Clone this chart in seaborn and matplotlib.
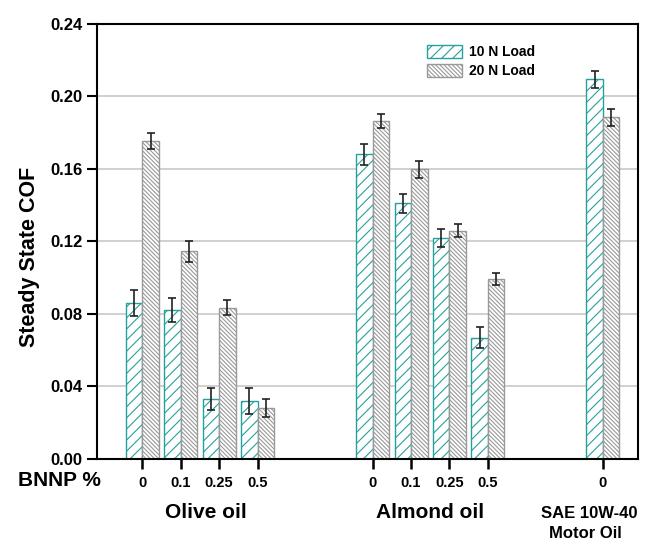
import numpy as np
import pandas as pd
import seaborn as sns
import matplotlib.pyplot as plt
import matplotlib.transforms as mtransforms
from matplotlib.patches import Patch

# ---------------- data ----------------
oils = ["Olive oil"] * 4 + ["Almond oil"] * 4 + ["SAE 10W-40"]
bnnp = ["0", "0.1", "0.25", "0.5", "0", "0.1", "0.25", "0.5", "0"]
loads = ["10 N Load", "20 N Load"]
cof_10n = [0.086, 0.082, 0.033, 0.032, 0.168, 0.141, 0.122, 0.067, 0.2095]
cof_20n = [0.1755, 0.1145, 0.0835, 0.028, 0.1865, 0.1598, 0.126, 0.0993, 0.1885]
err_10n = [0.007, 0.0066, 0.006, 0.0074, 0.006, 0.0052, 0.0051, 0.0056, 0.0047]
err_20n = [0.0045, 0.006, 0.0042, 0.005, 0.004, 0.0045, 0.0035, 0.0032, 0.0046]
yticks = [0.00, 0.04, 0.08, 0.12, 0.16, 0.20, 0.24]

keys = [f"{o}|{b}" for o, b in zip(oils, bnnp)]
df = pd.DataFrame({
    "key": keys * 2,
    "load": [loads[0]] * len(keys) + [loads[1]] * len(keys),
    "cof": cof_10n + cof_20n,
    "err": err_10n + err_20n,
})
# empty slots between the oil groups
order = keys[:4] + ["gap1", "gap2"] + keys[4:8] + ["gap3", "gap4"] + keys[8:]

# ---------------- style ----------------
sns.set_theme(style="white")
plt.rcParams['font.family'] = ['Liberation Sans', 'DejaVu Sans']
plt.rcParams['font.weight'] = 'bold'
plt.rcParams['hatch.linewidth'] = 0.8
plt.rcParams['text.color'] = 'black'
plt.rcParams['axes.labelcolor'] = 'black'

TEAL = "#26a09a"
GRAY = "#999999"
styles = {loads[0]: dict(edge=TEAL, hatch="///"),
          loads[1]: dict(edge=GRAY, hatch="\\" * 8)}

fig = plt.figure(figsize=(6.45, 5.4), dpi=100)
ax = fig.add_axes([0.1499, 0.15, 0.8397, 0.8056])

sns.barplot(data=df, x="key", y="cof", hue="load", order=order,
            hue_order=loads, errorbar=None, width=0.86, dodge=True,
            legend=False, ax=ax, zorder=2)

lookup = {(k, l): (c, e) for k, l, c, e in zip(df["key"], df["load"], df["cof"], df["err"])}

for p in list(ax.patches):
    cx = p.get_x() + p.get_width() / 2
    idx = int(round(cx))
    load = loads[0] if cx < idx else loads[1]
    st = styles[load]
    p.set_facecolor("white")
    p.set_edgecolor(st["edge"])
    p.set_hatch(st["hatch"])
    p.set_linewidth(1.0)
    key = order[idx]
    if (key, load) in lookup:
        c, e = lookup[(key, load)]
        ax.errorbar(cx, p.get_height(), yerr=e, fmt='none', ecolor="#222222",
                    elinewidth=1.2, capsize=3, capthick=1.2, zorder=3)

# ---------------- axes ----------------
tick_pos = [i for i, k in enumerate(order) if not k.startswith("gap")]
ax.set_xticks(tick_pos)
ax.set_xticklabels(bnnp)
ax.set_xlim(-1.19, 12.92)
ax.set_ylim(0, 0.24)
ax.set_yticks(yticks)
ax.set_yticklabels([f"{v:.2f}" for v in yticks])
ax.set_xlabel("")
ax.set_ylabel("Steady State COF", fontsize=15.5, fontweight='bold')
ax.yaxis.set_label_coords(-0.104, 0.464)

ax.yaxis.grid(True, color="#c8c8c8", linewidth=1.2)
ax.set_axisbelow(True)
for s in ax.spines.values():
    s.set_visible(True)
    s.set_color("black")
    s.set_linewidth(1.5)

ax.tick_params(axis='y', direction='out', length=7, width=1.5, labelsize=12,
               pad=3, left=True, colors='black')
ax.tick_params(axis='x', direction='out', length=7, width=1.8, labelsize=10.5,
               pad=5, bottom=True, colors='black')
for t in ax.get_xticklabels() + ax.get_yticklabels():
    t.set_fontweight('bold')

# ---------------- legend ----------------
handles = [Patch(facecolor="white", edgecolor=styles[l]["edge"], hatch=styles[l]["hatch"],
                 linewidth=1.0, label=l) for l in loads]
leg = ax.legend(handles=handles, loc='upper left', bbox_to_anchor=(0.61, 0.952),
                frameon=False, prop=dict(size=10, weight='bold'), handlelength=2.5,
                handleheight=1.1, labelspacing=0.34, handletextpad=0.5,
                borderaxespad=0, borderpad=0)

# ---------------- group labels ----------------
trans = mtransforms.blended_transform_factory(ax.transData, fig.transFigure)
fig.text(18 / 645, 1 - 481 / 540, "BNNP %", ha='left', va='center',
         fontsize=15, fontweight='bold')
ax.text(1.65, 1 - 518 / 540, "Olive oil", transform=trans, ha='center',
        va='baseline', fontsize=15, fontweight='bold')
ax.text(7.5, 1 - 518 / 540, "Almond oil", transform=trans, ha='center',
        va='baseline', fontsize=15, fontweight='bold')
ax.text(11.65, 1 - 518 / 540, "SAE 10W-40", transform=trans, ha='center',
        va='baseline', fontsize=12, fontweight='bold')
ax.text(11.55, 1 - 538 / 540, "Motor Oil", transform=trans, ha='center',
        va='baseline', fontsize=12, fontweight='bold')

fig.savefig("out.png", dpi=100)
